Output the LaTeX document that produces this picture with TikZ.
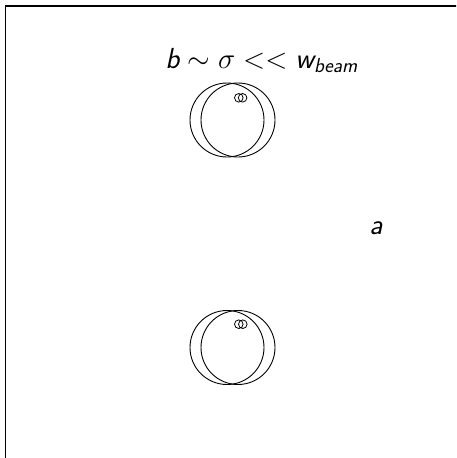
\RequirePackage{fix-cm}
\documentclass[tikz,border=0pt]{standalone}
\usepackage{amsmath}
\newcommand\sfi[1]{\text{\sffamily\itshape #1}}
\begin{document}
\begin{tikzpicture}[x=1pt,y=-1pt,
  ring/.style={draw=black,line width=0.9pt},
  small/.style={draw=black,line width=0.8pt},
  lbl/.style={inner sep=0pt,font=\fontsize{29}{34}\selectfont\sffamily\itshape}]
\useasboundingbox (0,0) rectangle (456,458);
\clip (0,0) rectangle (456,458);
\draw[line width=1.4pt] (5.5,480) -- (5.5,6) -- (480,6);
% top pair
\node[ring,circle,minimum size=74pt,inner sep=0pt] (t1) at (227,120) {};
\node[ring,circle,minimum size=74pt,inner sep=0pt] (t2) at (238,120) {};
\node[small,circle,minimum size=8.6pt,inner sep=0pt] (ts1) at (238.8,97.8) {};
\node[small,circle,minimum size=8.6pt,inner sep=0pt] (ts2) at (242.6,97.8) {};
% bottom pair
\node[ring,circle,minimum size=74pt,inner sep=0pt] (b1) at (227,347.5) {};
\node[ring,circle,minimum size=74pt,inner sep=0pt] (b2) at (238,347.5) {};
\node[small,circle,minimum size=8.6pt,inner sep=0pt] (bs1) at (238.8,324.2) {};
\node[small,circle,minimum size=8.6pt,inner sep=0pt] (bs2) at (242.8,324.2) {};
% labels
\node[lbl,anchor=base] (title) at (261.5,68) {$\sfi{b}\sim\sigma<<\sfi{w}_{\sfi{beam}}$};
\node[lbl,anchor=base] (a) at (376,234) {a};
\end{tikzpicture}
\end{document}
